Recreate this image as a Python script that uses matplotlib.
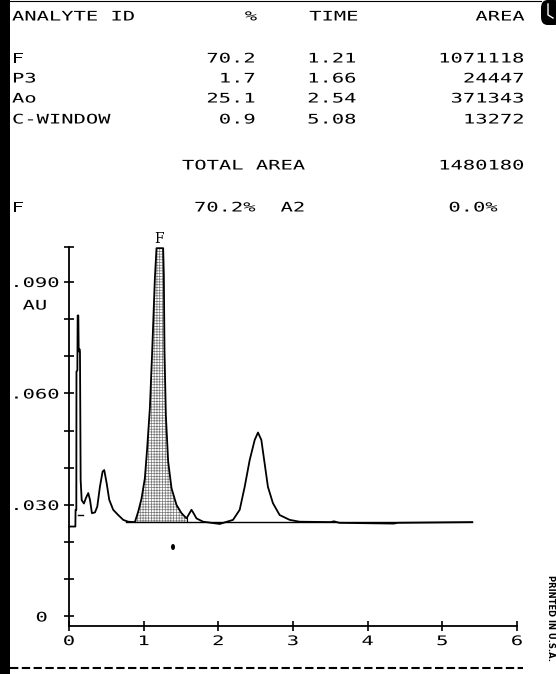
import matplotlib
matplotlib.use("Agg")
import matplotlib.pyplot as plt
import matplotlib.transforms as mtransforms
from matplotlib.patches import Rectangle, FancyBboxPatch, Ellipse
from matplotlib.lines import Line2D
from matplotlib.patheffects import AbstractPathEffect

# ---------------- data ----------------
analyte_ids = ["F", "P3", "Ao", "C-WINDOW"]
analyte_pct = [70.2, 1.7, 25.1, 0.9]
analyte_time = [1.21, 1.66, 2.54, 5.08]
analyte_area = [1071118, 24447, 371343, 13272]
total_area = 1480180
summary_labels = ["F", "A2"]
summary_pct = [70.2, 0.0]

# chromatogram trace (time in min, absorbance AU)
trace_t = [0.0, 0.085, 0.088, 0.098, 0.100, 0.112, 0.116, 0.125, 0.130, 0.140,
           0.147, 0.156, 0.170, 0.200, 0.227, 0.258, 0.281, 0.307, 0.348, 0.379,
           0.414, 0.450, 0.472, 0.504, 0.539, 0.592, 0.659, 0.726, 0.793, 0.882,
           0.927, 0.972, 1.016, 1.047, 1.083, 1.114, 1.150, 1.172, 1.261, 1.270,
           1.279, 1.297, 1.328, 1.373, 1.440, 1.507, 1.574, 1.640, 1.662, 1.707,
           1.796, 2.019, 2.197, 2.286, 2.353, 2.420, 2.487, 2.531, 2.576, 2.620,
           2.664, 2.731, 2.821, 2.955, 3.088, 3.500, 3.550, 3.620, 4.350, 4.400,
           5.400]
trace_au = [0.0242, 0.0242, 0.0287, 0.0287, 0.0659, 0.0662, 0.0810, 0.0810, 0.0713, 0.0720,
            0.0713, 0.0367, 0.0313, 0.0304, 0.0319, 0.0332, 0.0314, 0.0278, 0.0280, 0.0296,
            0.0349, 0.0390, 0.0394, 0.0359, 0.0314, 0.0287, 0.0273, 0.0260, 0.0255, 0.0254,
            0.0282, 0.0318, 0.0372, 0.0453, 0.0560, 0.0713, 0.0910, 0.0991, 0.0991, 0.0919,
            0.0713, 0.0542, 0.0417, 0.0345, 0.0300, 0.0278, 0.0264, 0.0287, 0.0280, 0.0264,
            0.0255, 0.0249, 0.0260, 0.0287, 0.0349, 0.0421, 0.0475, 0.0495, 0.0475, 0.0412,
            0.0349, 0.0305, 0.0273, 0.0260, 0.0255, 0.0254, 0.0256, 0.0252, 0.0250, 0.0252,
            0.0254]
baseline_au = 0.0253
baseline_t = [0.77, 5.40]
f_peak_range = [0.88, 1.574]
marker_dash_t = [0.12, 0.19]
marker_dash_au = 0.0273

x_ticks = [0, 1, 2, 3, 4, 5, 6]
x_ticklabels = ["0", "1", "2", "3", "4", "5", "6"]
y_ticks = [0.0, 0.03, 0.06, 0.09]
y_ticklabels = ["0", ".030", ".060", ".090"]
y_minor = [0.01, 0.02, 0.04, 0.05, 0.07, 0.08, 0.0995]

# ---------------- figure ----------------
W, H = 556, 674
plt.rcParams["hatch.linewidth"] = 0.5
plt.rcParams["lines.scale_dashes"] = False
MONO = "DejaVu Sans Mono"
FS = 9.5
SX = 1.55   # the printer font is much wider than any installed font


class HStretch(AbstractPathEffect):
    """Widen a text horizontally about its anchor point (text stays a Text)."""

    def __init__(self, text, sx):
        super().__init__()
        self.text = text
        self.sx = sx

    def draw_path(self, renderer, gc, tpath, affine, rgbFace=None):
        t = self.text
        x0 = t.get_transform().transform(t.get_unitless_position())[0]
        a = affine + mtransforms.Affine2D().translate(-x0, 0).scale(self.sx, 1).translate(x0, 0)
        renderer.draw_path(gc, tpath, a, rgbFace)


def wide(t, sx=SX):
    t.set_path_effects([HStretch(t, sx)])
    return t


fig = plt.figure(figsize=(W / 100, H / 100), dpi=100)
fig.patch.set_facecolor("white")


def fx(x):
    return x / W


def fy(y):
    return 1 - y / H


def ptext(x, y, s, ha="left", **kw):
    kw.setdefault("fontfamily", MONO)
    kw.setdefault("fontsize", FS)
    return wide(fig.text(fx(x), fy(y), s, ha=ha, va="center", **kw))


ax_l, ax_r, ax_b, ax_t = 69, 517, 626, 246.7
ax = fig.add_axes([fx(ax_l), fy(ax_b), (ax_r - ax_l) / W, (ax_b - ax_t) / H])
ax.set_xlim(0, 6)
ax.set_ylim(-0.00256, 0.0995)
ax.patch.set_alpha(0)
for s in ["top", "right"]:
    ax.spines[s].set_visible(False)
for s in ["left", "bottom"]:
    ax.spines[s].set_linewidth(1.3)

ax.set_xticks(x_ticks)
ax.set_xticklabels(x_ticklabels, fontfamily=MONO, fontsize=FS)
ax.set_yticks(y_ticks)
ax.set_yticklabels(y_ticklabels, fontfamily=MONO, fontsize=FS)
ax.set_yticks(y_minor, minor=True)
ax.tick_params(axis="both", which="both", direction="inout", length=6.5,
               width=1.2, color="black", pad=3.3)
# the '0' of the AU scale sits further left on the printout
zero_lbl = ax.get_yticklabels()[0]
zero_lbl.set_transform(zero_lbl.get_transform() +
                       mtransforms.ScaledTranslation(-12 / 100, 0, fig.dpi_scale_trans))
for lbl in ax.get_xticklabels() + ax.get_yticklabels():
    wide(lbl)

# shaded F peak
sel = [i for i, t in enumerate(trace_t) if f_peak_range[0] <= t <= f_peak_range[1]]
ax.fill_between([trace_t[i] for i in sel], [trace_au[i] for i in sel], baseline_au,
                facecolor="white", edgecolor="#777777", hatch="++++++", linewidth=0)
ax.plot([f_peak_range[1], f_peak_range[1]],
        [baseline_au, trace_au[sel[-1]]], color="black", lw=0.8)

# integration baseline and trace
ax.plot(baseline_t, [baseline_au, baseline_au], color="black", lw=1.0)
ax.plot(trace_t, trace_au, color="black", lw=1.3, clip_on=False)
ax.plot(marker_dash_t, [marker_dash_au, marker_dash_au], color="black", lw=1.0)

# peak label
ax.annotate("F", xy=(analyte_time[0], ax.get_ylim()[1]), xytext=(0, 0.5),
            textcoords="offset points", ha="center", va="bottom",
            fontfamily="DejaVu Serif", fontsize=10)

ptext(35, 306, "AU", ha="center")

# ---------------- header table ----------------
hy = 17
ptext(12, hy, "ANALYTE ID", ha="left")
ptext(251, hy, "%", ha="center")
ptext(334, hy, "TIME", ha="center")
ptext(525, hy, "AREA", ha="right")

row_y = [59, 79, 99, 120]
for name, p, t, a, y in zip(analyte_ids, analyte_pct, analyte_time, analyte_area, row_y):
    ptext(12, y, name, ha="left")
    ptext(256, y, f"{p:.1f}", ha="right")
    ptext(332, y, f"{t:.2f}", ha="center")
    ptext(525, y, f"{a}", ha="right")

ptext(244, 166, "TOTAL AREA", ha="center")
ptext(525, 166, f"{total_area}", ha="right")

ptext(12, 208, summary_labels[0], ha="left")
ptext(256, 208, f"{summary_pct[0]:.1f}%", ha="right")
ptext(293, 208, summary_labels[1], ha="center")
ptext(498, 208, f"{summary_pct[1]:.1f}%", ha="right")

# ---------------- page decorations ----------------
fig.add_artist(Rectangle((0, 0), fx(10), 1, transform=fig.transFigure,
                         facecolor="black", edgecolor="none"))
fig.add_artist(Line2D([fx(10), fx(541)], [fy(0.5), fy(0.5)], color="black", lw=0.8))
fig.add_artist(FancyBboxPatch((fx(541), fy(25)), fx(20), 25 / H,
                              boxstyle="round,pad=0,rounding_size=0.012",
                              transform=fig.transFigure, facecolor="black",
                              edgecolor="none"))
fig.add_artist(Line2D([fx(548), fx(548), fx(553)], [fy(4), fy(15), fy(18)],
                      color="white", lw=1.0))
fig.add_artist(Line2D([fx(10), fx(523)], [fy(667.7), fy(667.7)], color="black",
                      lw=1.5, dashes=(6, 2.5)))
fig.add_artist(Ellipse((fx(173), fy(547)), 4 / W, 6 / H, transform=fig.transFigure,
                       facecolor="black", edgecolor="none"))
fig.text(fx(551), fy(618), "PRINTED IN U.S.A.", rotation=-90, ha="center", va="center",
         fontfamily="DejaVu Sans", fontweight="bold", fontsize=6)

fig.savefig("out.png", dpi=100)
